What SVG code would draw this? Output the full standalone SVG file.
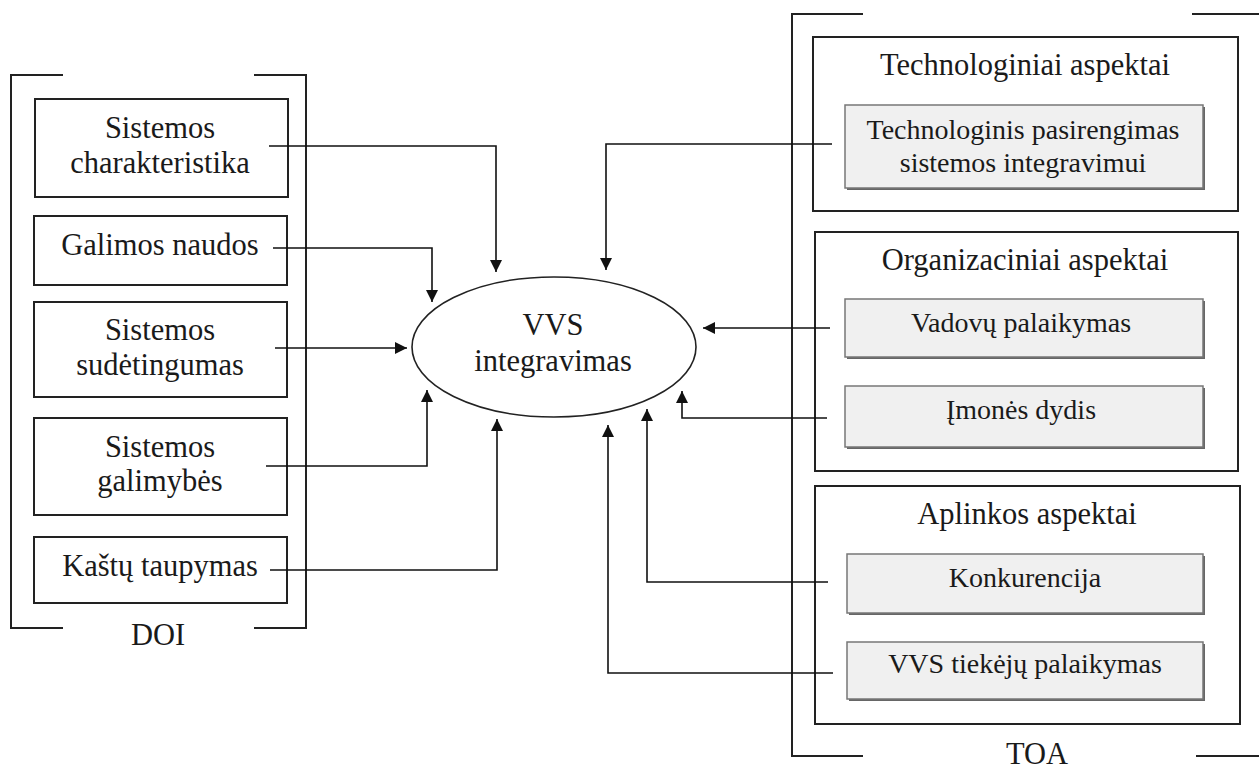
<svg xmlns="http://www.w3.org/2000/svg" width="1259" height="764" viewBox="0 0 1259 764">
<style>
.t{font-family:"Liberation Serif","Tinos","DejaVu Serif","Noto Serif",serif;font-size:30.5px;fill:#1a1a1a;text-anchor:middle}
.g{font-family:"Liberation Serif","Tinos","DejaVu Serif","Noto Serif",serif;font-size:28px;fill:#1a1a1a;text-anchor:middle}
.box{fill:#fff;stroke:#222;stroke-width:2}
.br{fill:none;stroke:#222;stroke-width:2}
.gb{fill:#f0f0f0;stroke:#777;stroke-width:1.5}
.sh{fill:#666}
.c{fill:none;stroke:#111;stroke-width:1.6}
</style>
<defs>
<marker id="ah" markerWidth="12" markerHeight="12" refX="12" refY="6" orient="auto" markerUnits="userSpaceOnUse">
<path d="M0,0 L12,6 L0,12 Z" fill="#111"/>
</marker>
</defs>
<rect width="1259" height="764" fill="#fff"/>

<g id="doi">
<path class="br" d="M63,75 H11 V628 H63"/>
<path class="br" d="M254,75 H306 V628 H254"/>
<text class="t" x="158" y="645">DOI</text>
</g>

<g id="toa">
<path class="br" d="M863,14 H792 V756 H863"/>
<path class="br" d="M1192,14 H1259"/>
<path class="br" d="M1196,756 H1259"/>
<text class="t" x="1037" y="764">TOA</text>
</g>

<g id="n1">
<rect class="box" x="35" y="99" width="253" height="98"/>
<text class="t" x="160" y="138">Sistemos</text>
<text class="t" x="160" y="173">charakteristika</text>
</g>
<g id="n2">
<rect class="box" x="34" y="216" width="253" height="69"/>
<text class="t" x="160" y="255">Galimos naudos</text>
</g>
<g id="n3">
<rect class="box" x="34" y="302" width="253" height="95"/>
<text class="t" x="160" y="340">Sistemos</text>
<text class="t" x="160" y="375">sudėtingumas</text>
</g>
<g id="n4">
<rect class="box" x="34" y="418" width="253" height="97"/>
<text class="t" x="160" y="457">Sistemos</text>
<text class="t" x="160" y="491">galimybės</text>
</g>
<g id="n5">
<rect class="box" x="34" y="537" width="253" height="66"/>
<text class="t" x="160" y="576">Kaštų taupymas</text>
</g>

<g id="center">
<ellipse cx="554" cy="347" rx="142" ry="70" fill="#fff" stroke="#222" stroke-width="1.6"/>
<text class="t" x="553" y="335">VVS</text>
<text class="t" x="553" y="371">integravimas</text>
</g>

<g id="tech">
<rect class="box" x="813" y="37" width="425" height="174"/>
<text class="t" x="1025" y="75">Technologiniai aspektai</text>
<rect class="sh" x="847" y="107" width="358" height="83"/>
<rect class="gb" x="845" y="105" width="358" height="83"/>
<text class="g" x="1023" y="139">Technologinis pasirengimas</text>
<text class="g" x="1023" y="172">sistemos integravimui</text>
</g>

<g id="org">
<rect class="box" x="815" y="232" width="423" height="239"/>
<text class="t" x="1025" y="270">Organizaciniai aspektai</text>
<g id="vadovu">
<rect class="sh" x="847" y="301" width="358" height="58"/>
<rect class="gb" x="845" y="299" width="358" height="58"/>
<text class="g" x="1021" y="332">Vadovų palaikymas</text>
</g>
<g id="imones">
<rect class="sh" x="847" y="388" width="358" height="61"/>
<rect class="gb" x="845" y="386" width="358" height="61"/>
<text class="g" x="1021" y="419">Įmonės dydis</text>
</g>
</g>

<g id="aplinka">
<rect class="box" x="815" y="486" width="425" height="238"/>
<text class="t" x="1027" y="524">Aplinkos aspektai</text>
<g id="konk">
<rect class="sh" x="849" y="556" width="356" height="59"/>
<rect class="gb" x="847" y="554" width="356" height="59"/>
<text class="g" x="1025" y="587">Konkurencija</text>
</g>
<g id="tiek">
<rect class="sh" x="849" y="644" width="356" height="57"/>
<rect class="gb" x="847" y="642" width="356" height="57"/>
<text class="g" x="1025" y="673">VVS tiekėjų palaikymas</text>
</g>
</g>

<g id="connectors">
<path class="c" marker-end="url(#ah)" d="M269,146 H496 V272"/>
<path class="c" marker-end="url(#ah)" d="M273,248 H432 V302"/>
<path class="c" marker-end="url(#ah)" d="M275,348 H407"/>
<path class="c" marker-end="url(#ah)" d="M266,466 H427 V390"/>
<path class="c" marker-end="url(#ah)" d="M270,570 H497 V419"/>
<path class="c" marker-end="url(#ah)" d="M832,144 H606 V270"/>
<path class="c" marker-end="url(#ah)" d="M830,328 H703"/>
<path class="c" marker-end="url(#ah)" d="M827,418 H682 V391"/>
<path class="c" marker-end="url(#ah)" d="M828,582 H647 V409"/>
<path class="c" marker-end="url(#ah)" d="M833,673 H608 V425"/>
</g>
</svg>
